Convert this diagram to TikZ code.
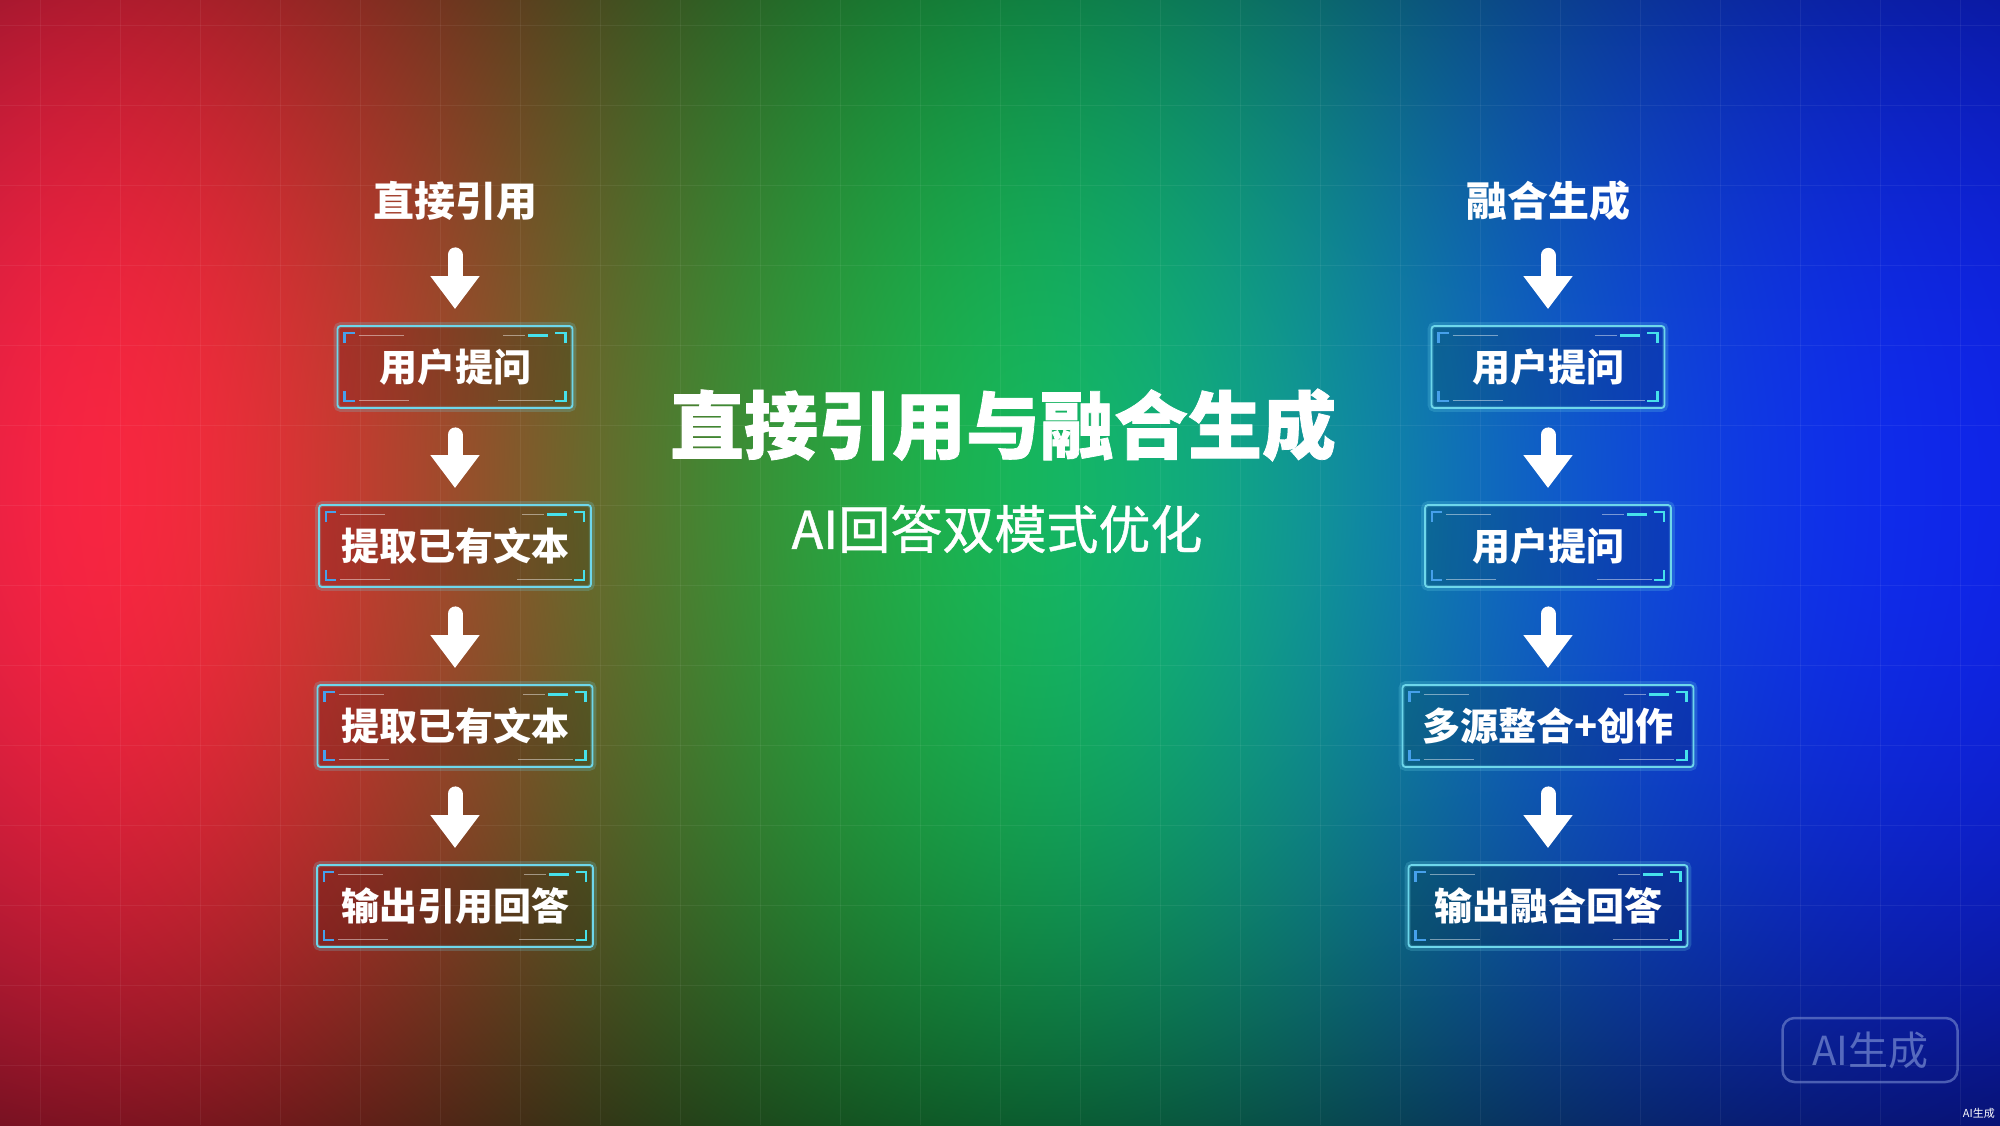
\documentclass[tikz,border=0pt]{standalone}
\usepackage{fontspec}
\setmainfont{Noto Sans CJK SC}
\usetikzlibrary{arrows.meta,calc}

\definecolor{boxline}{RGB}{110,215,235}
\definecolor{decoblue}{RGB}{70,160,235}
\definecolor{decocyan}{RGB}{70,225,235}
\definecolor{wmark}{RGB}{120,140,210}

% 2D background: horizontal red-green-blue, darker to top and bottom
\pgfdeclarefunctionalshading{bgfun}{\pgfpointorigin}{\pgfpoint{100bp}{100bp}}{}{%
  25 sub 50 div exch 25 sub 50 div exch
  0.5 sub 2 mul dup dup mul -0.38 mul exch 0.1 mul add 0.98 add
  1 index 0.05 sub 0.25 div dup mul neg 2.71828 exch exp 0.92 mul 0.06 add 1 index mul
  2 index 0.52 sub 0.27 div dup mul neg 2.71828 exch exp 0.6 mul 0.12 add 2 index mul
  3 index 0.95 sub 0.42 div dup mul neg 2.71828 exch exp 0.85 mul 0.08 add
  4 index 0.2 div dup mul neg 2.71828 exch exp 0.18 mul add 3 index mul
  5 3 roll pop pop
}

\tikzset{
  bx/.style={draw=boxline, line width=1.8pt, rounded corners=3pt, fill=black,
    fill opacity=0.14, text opacity=1, text=white,
    font=\bfseries\fontsize{38}{40}\selectfont, minimum height=82pt, inner sep=0pt},
  hd/.style={text=white, font=\bfseries\fontsize{41}{44}\selectfont, inner sep=0pt},
  flow/.style={white, line width=15pt, line cap=round,
    -{Triangle[width=47pt,length=33pt]}, shorten <=26pt, shorten >=16pt},
  decoL/.style={decoblue, line width=2.5pt},
  decoR/.style={decocyan, line width=2.5pt},
  decothin/.style={white, opacity=0.45, line width=1pt},
  boxglow/.style={boxline, opacity=0.22, line width=6pt, rounded corners=4pt},
  gridline/.style={white, opacity=0.06, line width=1pt},
}

\newcommand\boxdeco[1]{%
  \draw[boxglow] (#1.north west) rectangle (#1.south east);
  \draw[decoL] ($(#1.north west)+(8,18)$) -- ++(0,-10) -- ++(10,0);
  \draw[decothin] ($(#1.north west)+(22,10)$) -- ++(45,0);
  \draw[decoR] ($(#1.north east)+(-8,18)$) -- ++(0,-10) -- ++(-10,0);
  \draw[decoR, line width=3pt] ($(#1.north east)+(-45,10)$) -- ++(20,0);
  \draw[decothin] ($(#1.north east)+(-70,10)$) -- ++(22,0);
  \draw[decoL] ($(#1.south west)+(8,-18)$) -- ++(0,10) -- ++(10,0);
  \draw[decothin] ($(#1.south west)+(22,-8)$) -- ++(50,0);
  \draw[decoR] ($(#1.south east)+(-8,-18)$) -- ++(0,10) -- ++(-10,0);
  \draw[decothin] ($(#1.south east)+(-75,-8)$) -- ++(55,0);
}

\begin{document}
\begin{tikzpicture}[x=1pt,y=-1pt]
\useasboundingbox (0,0) rectangle (2000,1125);
% background
\shade[shading=bgfun] (0,0) rectangle (2000,1125);
\foreach \gx in {40,120,...,2000} \draw[gridline] (\gx,0) -- (\gx,1125);
\foreach \gy in {25,105,...,1125} \draw[gridline] (0,\gy) -- (2000,\gy);

% title
\node[text=white, font=\bfseries\fontsize{74}{80}\selectfont\addfontfeatures{FakeBold=1}, inner sep=0pt] (title) at (1003,425) {直接引用与融合生成};
\node[text=white, font=\fontsize{52}{56}\selectfont\addfontfeatures{FakeBold=0.8}, inner sep=0pt] (sub) at (997,529) {AI回答双模式优化};

% left column
\node[hd] (lh) at (455,201) {直接引用};
\node[bx, minimum width=235pt] (l1) at (455,367) {用户提问};
\node[bx, minimum width=272pt] (l2) at (455,546) {提取已有文本};
\node[bx, minimum width=275pt] (l3) at (455,726) {提取已有文本};
\node[bx, minimum width=276pt] (l4) at (455,906) {输出引用回答};

% right column
\node[hd] (rh) at (1548,201) {融合生成};
\node[bx, minimum width=233pt] (r1) at (1548,367) {用户提问};
\node[bx, minimum width=246pt] (r2) at (1548,546) {用户提问};
\node[bx, minimum width=291pt] (r3) at (1548,726) {多源整合+创作};
\node[bx, minimum width=279pt] (r4) at (1548,906) {输出融合回答};

\foreach \b in {l1,l2,l3,l4,r1,r2,r3,r4} {\boxdeco{\b}}

% arrows
\draw[flow, shorten <=34pt] (lh.south) -- (l1.north);
\draw[flow] (l1.south) -- (l2.north);
\draw[flow] (l2.south) -- (l3.north);
\draw[flow] (l3.south) -- (l4.north);
\draw[flow, shorten <=34pt] (rh.south) -- (r1.north);
\draw[flow] (r1.south) -- (r2.north);
\draw[flow] (r2.south) -- (r3.north);
\draw[flow] (r3.south) -- (r4.north);

% watermark
\node[draw=wmark, draw opacity=0.6, line width=2.5pt, rounded corners=12pt,
  minimum width=175pt, minimum height=64pt, text=wmark, text opacity=0.7,
  font=\fontsize{40}{44}\selectfont, inner sep=0pt] (wm) at (1870,1050) {AI生成};
\node[text=white, font=\fontsize{11}{12}\selectfont, inner sep=0pt, anchor=east] (wm2) at (1995,1113) {AI生成};
\end{tikzpicture}
\end{document}
